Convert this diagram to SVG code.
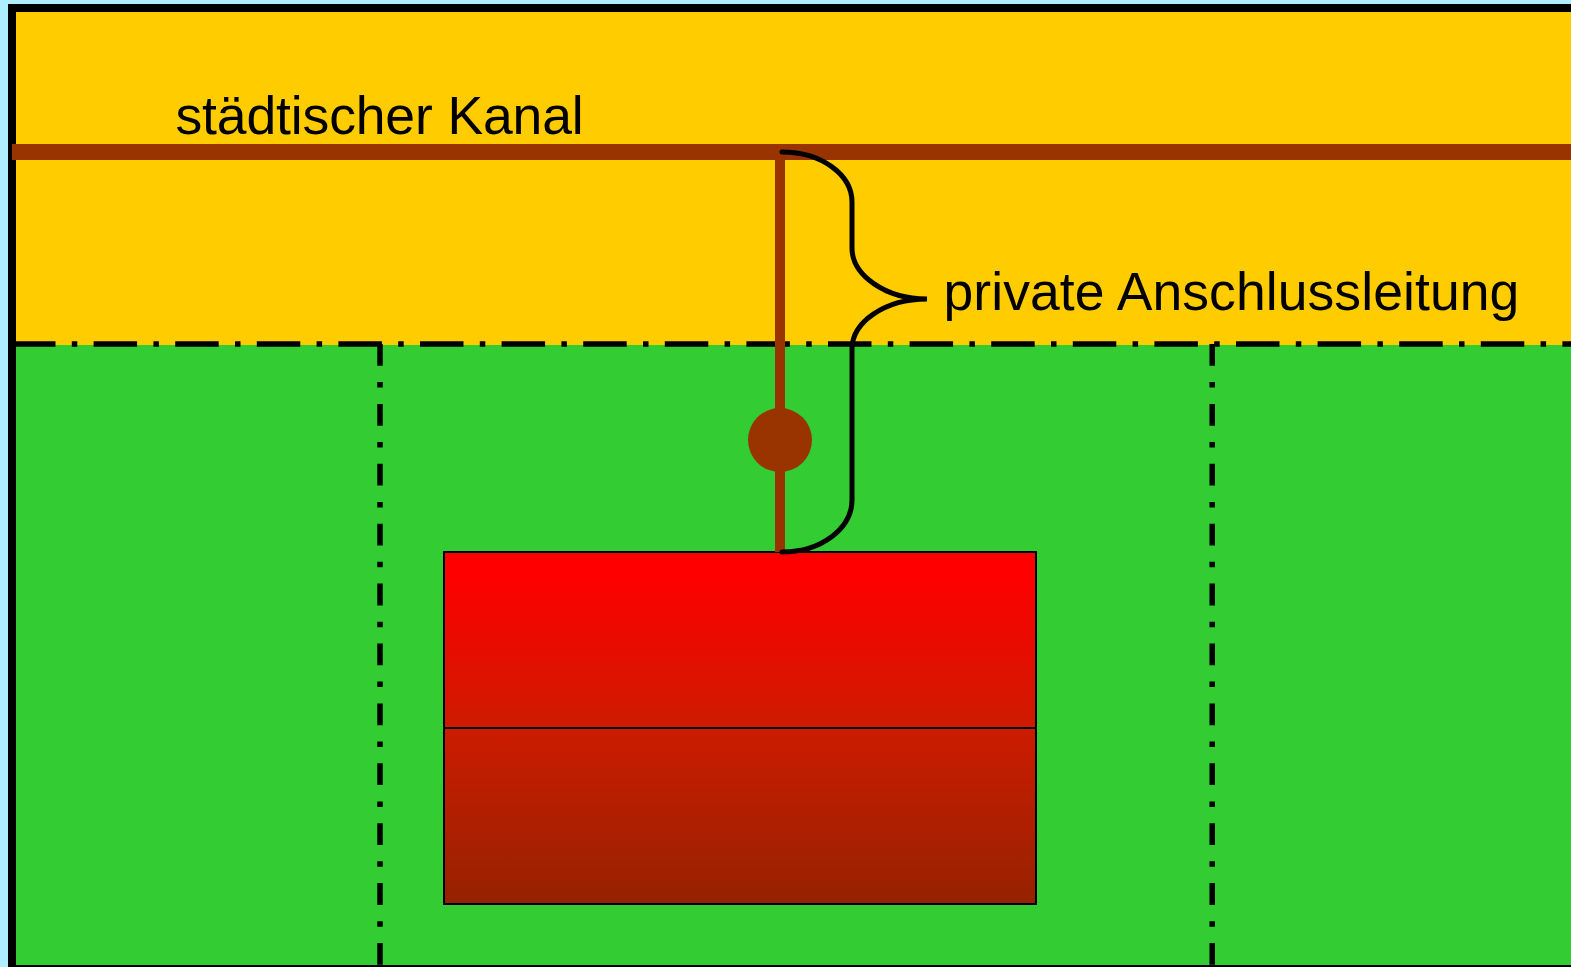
<svg xmlns="http://www.w3.org/2000/svg" width="1571" height="967" viewBox="0 0 1571 967">
<style>
text{font-family:"Liberation Sans",Arial,sans-serif;font-size:53.5px;fill:#000}
.bd{fill:none;stroke:#000;stroke-width:5.5;stroke-dasharray:43.5 16.3 5.5 16.3}
.bv{fill:none;stroke:#000;stroke-width:5.5;stroke-dasharray:21.8 16.3 5.5 16.3}
.pipe{fill:none;stroke:#993300}
.house{stroke:#000;stroke-width:2}
</style>
<defs>
<linearGradient id="hg" x1="0" y1="0" x2="0" y2="1">
<stop offset="0" stop-color="#ff0000"/>
<stop offset="0.06" stop-color="#ff0000"/>
<stop offset="0.5" stop-color="#cd1b00"/>
<stop offset="1" stop-color="#952200"/>
</linearGradient>
</defs>
<rect width="1571" height="967" fill="#aeeeff"/>
<g id="grundstuecke">
<rect x="12" y="8" width="1570" height="961" fill="#33cc33" stroke="#000" stroke-width="8"/>
<rect x="16" y="12" width="1555" height="333" fill="#ffcc00"/>
</g>
<g id="grenzen">
<path class="bd" d="M12,344H1571"/>
<path class="bv" d="M380,344V965"/>
<path class="bv" d="M1212.2,344V965"/>
</g>
<g id="haus">
<rect class="house" x="444" y="552" width="592" height="352" fill="url(#hg)"/>
<path class="house" d="M444,728H1036" fill="none"/>
</g>
<g id="connectors">
<path class="pipe" stroke-width="16" d="M12,152H1571"/>
<path class="pipe" stroke-width="10" d="M780,152V552"/>
<circle cx="780" cy="440" r="32" fill="#993300"/>
<path fill="none" stroke="#000" stroke-width="5" stroke-linecap="round" d="M782,152C822,152 852,175 852,202V248C852,275 885,299 927,299C885,299 852,322 852,349V500C852,528 822,552 782,552"/>
</g>
<g id="label-kanal"><text x="175.5" y="134" letter-spacing="-0.14">städtischer Kanal</text></g>
<g id="label-anschluss"><text x="943.5" y="310" letter-spacing="0.08">private Anschlussleitung</text></g>
</svg>
